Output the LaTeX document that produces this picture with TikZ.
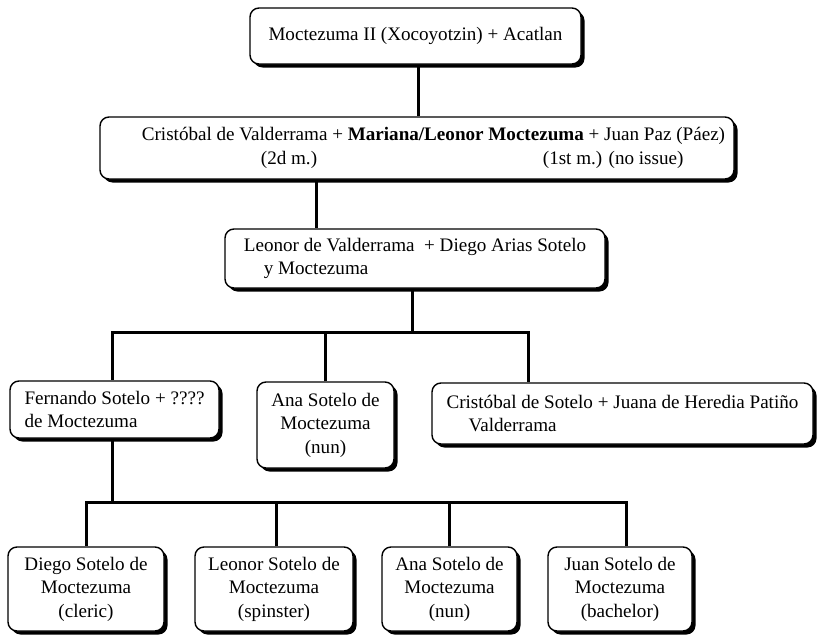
\documentclass[tikz,border=0pt]{standalone}
\usepackage{fontspec}
\setmainfont{Liberation Serif}
\usetikzlibrary{shadows}
\newcommand\famfont{\fontsize{19.1}{23.5}\selectfont}
\begin{document}
\begin{tikzpicture}[x=1pt,y=-1pt,
  person/.style={draw, line width=1.4pt, rounded corners=9pt, fill=white,
    drop shadow={shadow xshift=3.5pt, shadow yshift=-3.5pt, fill=black, opacity=1},
    inner sep=0pt, font=\famfont},
  link/.style={line width=3pt}]
\useasboundingbox (0,0) rectangle (821,642);
\fill[white] (0,0) rectangle (821,642);

% first generation
\node[person, minimum width=331pt, minimum height=56pt] (moct) at (415.5,36)
  {Moctezuma II (Xocoyotzin) + Acatlan};

% second generation
\node[person, minimum width=634pt, minimum height=62pt, align=left] (mariana) at (417,148)
  {\hspace*{33pt}Cristóbal de Valderrama + \textbf{Mariana/Leonor Moctezuma} + Juan Paz (Páez)\\
   \hspace*{33pt}\makebox[401pt][l]{\hspace*{119pt}(2d m.)}(1st m.) (no issue)};

% third generation
\node[person, minimum width=380pt, minimum height=59pt, align=left] (leonor) at (415,258.5)
  {Leonor de Valderrama \ + Diego Arias Sotelo\\ \hspace*{20pt}y Moctezuma};

% fourth generation
\node[person, minimum width=209pt, minimum height=57pt, align=left] (fernando) at (114.5,409.5)
  {Fernando Sotelo + ????\\de Moctezuma};
\node[person, minimum width=137pt, minimum height=86pt, align=center] (ana) at (325.5,425)
  {Ana Sotelo de\\Moctezuma\\(nun)};
\node[person, minimum width=381pt, minimum height=61pt, align=left] (cristobal) at (622.5,413.5)
  {Cristóbal de Sotelo + Juana de Heredia Patiño\\ \hspace*{22pt}Valderrama};

% fifth generation
\node[person, minimum width=156pt, minimum height=84pt, align=center] (diego) at (86,589)
  {Diego Sotelo de\\Moctezuma\\(cleric)};
\node[person, minimum width=158pt, minimum height=84pt, align=center] (leonorS) at (274,589)
  {Leonor Sotelo de\\Moctezuma\\(spinster)};
\node[person, minimum width=135pt, minimum height=84pt, align=center] (anaS) at (449.5,589)
  {Ana Sotelo de\\Moctezuma\\(nun)};
\node[person, minimum width=144pt, minimum height=84pt, align=center] (juan) at (620,589)
  {Juan Sotelo de\\Moctezuma\\(bachelor)};

% junction points of the family lines
\coordinate (t1) at (418,90);
\coordinate (t2) at (316,205);
\coordinate (k2) at (412,332);
\coordinate (b1w) at (112,332);
\coordinate (b1e) at (528,332);
\coordinate (b2w) at (86,502);
\coordinate (b2e) at (626,502);
\coordinate (k3) at (112,502);

% connectors
\draw[link] (moct.south -| t1) -- (mariana.north -| t1);
\draw[link] (mariana.south -| t2) -- (leonor.north -| t2);
\draw[link] (leonor.south -| k2) -- (k2);
\draw[link, line cap=rect] (b1w) -- (b1e);
\draw[link] (b1w) -- (fernando.north -| b1w);
\draw[link] (ana.north) -- (ana.north |- b1w);
\draw[link] (b1e) -- (cristobal.north -| b1e);
\draw[link] (fernando.south -| k3) -- (k3);
\draw[link, line cap=rect] (b2w) -- (b2e);
\draw[link] (b2w) -- (diego.north -| b2w);
\draw[link] (leonorS.north) ++(2,0) coordinate (l5) -- (l5 |- b2w);
\draw[link] (anaS.north) -- (anaS.north |- b2w);
\draw[link] (b2e) -- (juan.north -| b2e);
\end{tikzpicture}
\end{document}
